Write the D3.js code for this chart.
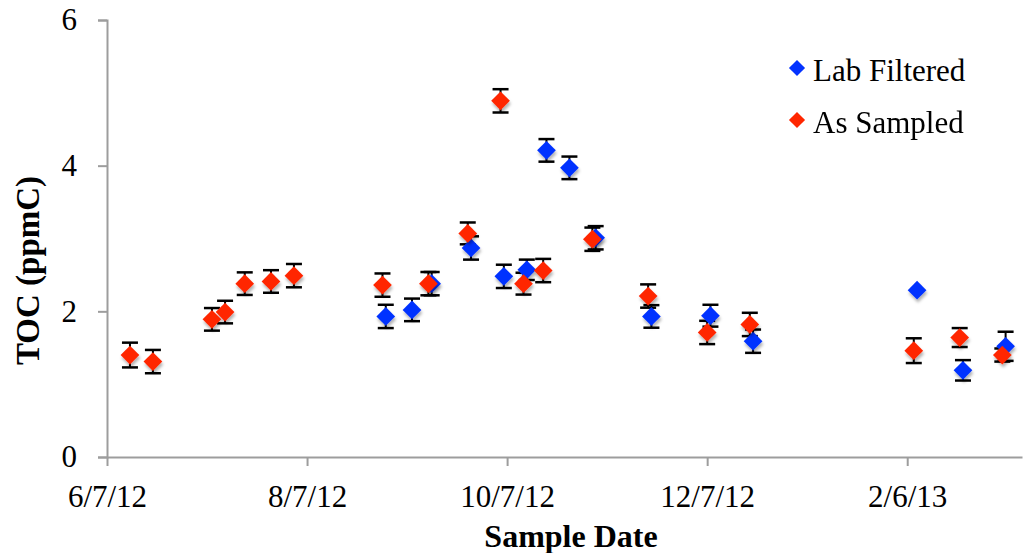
<!DOCTYPE html>
<html>
<head>
<meta charset="utf-8">
<script src="https://cdn.jsdelivr.net/npm/d3@7"></script>
<style>
  html, body { margin: 0; padding: 0; background: #fff; }
  svg { display: block; font-family: "Liberation Serif", "Times New Roman", serif; }
</style>
</head>
<body>
<script>
"use strict"

// Lab Filtered series
const labDates = ["2012-08-31", "2012-09-08", "2012-09-14", "2012-09-26", "2012-10-06", "2012-10-13", "2012-10-19", "2012-10-26", "2012-11-03", "2012-11-20", "2012-12-08", "2012-12-21", "2013-02-09", "2013-02-23", "2013-03-08"]
const labToc   = [1.93, 2.02, 2.38, 2.87, 2.48, 2.57, 4.21, 3.97, 3.01, 1.93, 1.94, 1.59, 2.29, 1.19, 1.52]
const labErr   = [0.16, 0.155, 0.16, 0.16, 0.16, 0.14, 0.155, 0.155, 0.16, 0.155, 0.15, 0.16, 0, 0.14, 0.2]

// As Sampled series
const sampledDates = ["2012-06-14", "2012-06-21", "2012-07-09", "2012-07-13", "2012-07-19", "2012-07-27", "2012-08-03", "2012-08-30", "2012-09-13", "2012-09-25", "2012-10-05", "2012-10-12", "2012-10-18", "2012-11-02", "2012-11-19", "2012-12-07", "2012-12-20", "2013-02-08", "2013-02-22", "2013-03-07"]
const sampledToc   = [1.40, 1.31, 1.89, 1.99, 2.38, 2.41, 2.49, 2.36, 2.38, 3.07, 4.89, 2.38, 2.56, 2.99, 2.21, 1.71, 1.82, 1.46, 1.64, 1.40]
const sampledErr   = [0.17, 0.16, 0.155, 0.155, 0.155, 0.155, 0.16, 0.16, 0.16, 0.15, 0.16, 0.15, 0.16, 0.16, 0.16, 0.16, 0.16, 0.17, 0.13, 0.09]

const xTicks = ["2012-06-07", "2012-08-07", "2012-10-07", "2012-12-07", "2013-02-06"]
const xDomain = ["2012-06-07", "2013-03-13"]
const yTicks = [0, 2, 4, 6]

const parse = d3.utcParse("%Y-%m-%d")
const fmt = d3.utcFormat("%-m/%-d/%y")

const series = [
  { name : "Lab Filtered", color : "#0433ff", dates : labDates, toc : labToc, err : labErr },
  { name : "As Sampled",   color : "#ff2600", dates : sampledDates, toc : sampledToc, err : sampledErr },
].map(s => ({ ...s, points : s.dates.map((d, i) => ({ date : parse(d), v : s.toc[i], e : s.err[i] })) }))

const width = 1024
const height = 553
const margin = { top : 20, right : 2, bottom : 96, left : 107 }

const x = d3.scaleUtc().domain(xDomain.map(parse)).range([margin.left, width - margin.right])
const y = d3.scaleLinear().domain([0, 6]).range([height - margin.bottom, margin.top])

const svg = d3.select("body").append("svg")
  .attr("width", width)
  .attr("height", height)

const defs = svg.append("defs")
defs.append("filter")
    .attr("id", "shadow")
    .attr("x", "-50%").attr("y", "-50%").attr("width", "200%").attr("height", "200%")
  .append("feDropShadow")
    .attr("dx", 1)
    .attr("dy", 3)
    .attr("stdDeviation", 1.6)
    .attr("flood-color", "#000")
    .attr("flood-opacity", 0.3)

const axisColor = "#9d9d9d"
const tickFont = 31

// y axis
const yAxis = svg.append("g")
  .attr("transform", `translate(${margin.left} 0)`)
  .call(d3.axisLeft(y).tickValues(yTicks).tickFormat(d3.format("d")).tickSize(9).tickPadding(21))
yAxis.select(".domain").attr("stroke", axisColor).attr("stroke-width", 2)
yAxis.selectAll(".tick line").attr("stroke", axisColor).attr("stroke-width", 2)
yAxis.selectAll(".tick text")
  .attr("font-family", "Liberation Serif")
  .attr("font-size", tickFont)
  .attr("fill", "#000")

// x axis
const xAxis = svg.append("g")
  .attr("transform", `translate(0 ${height - margin.bottom})`)
  .call(d3.axisBottom(x).tickValues(xTicks.map(parse)).tickFormat(fmt).tickSize(9).tickSizeOuter(0).tickPadding(19))
xAxis.select(".domain").attr("stroke", axisColor).attr("stroke-width", 2)
xAxis.selectAll(".tick line").attr("stroke", axisColor).attr("stroke-width", 2)
xAxis.selectAll(".tick text")
  .attr("font-family", "Liberation Serif")
  .attr("font-size", tickFont)
  .attr("fill", "#000")

// axis titles
svg.append("text")
  .text("Sample Date")
  .attr("x", 571)
  .attr("y", 547)
  .attr("text-anchor", "middle")
  .attr("font-weight", "bold")
  .attr("font-size", 32)

svg.append("text")
  .text("TOC (ppmC)")
  .attr("text-anchor", "middle")
  .attr("font-weight", "bold")
  .attr("font-size", 33)
  .attr("transform", `translate(39 ${(margin.top + height - margin.bottom) / 2 + 32}) rotate(-90)`)

// error bars first, then markers per series
const capHalf = 8
const bars = svg.append("g").attr("class", "error-bars")
series.forEach(s => {
  const g = bars.append("g")
  const withErr = s.points.filter(p => p.e > 0)
  g.selectAll(".stem").data(withErr).enter().append("line")
    .attr("x1", p => x(p.date)).attr("x2", p => x(p.date))
    .attr("y1", p => y(p.v + p.e)).attr("y2", p => y(p.v - p.e))
    .attr("stroke", "#000").attr("stroke-width", 2)
  g.selectAll(".cap-top").data(withErr).enter().append("line")
    .attr("x1", p => x(p.date) - capHalf).attr("x2", p => x(p.date) + capHalf)
    .attr("y1", p => y(p.v + p.e)).attr("y2", p => y(p.v + p.e))
    .attr("stroke", "#000").attr("stroke-width", 2.5)
  g.selectAll(".cap-bottom").data(withErr).enter().append("line")
    .attr("x1", p => x(p.date) - capHalf).attr("x2", p => x(p.date) + capHalf)
    .attr("y1", p => y(p.v - p.e)).attr("y2", p => y(p.v - p.e))
    .attr("stroke", "#000").attr("stroke-width", 2.5)
})

const diamond = d3.symbol(d3.symbolSquare, 175)
const marks = svg.append("g").attr("class", "markers")
series.forEach(s => {
  marks.append("g")
    .attr("filter", "url(#shadow)")
    .selectAll("path").data(s.points).enter().append("path")
      .attr("d", diamond)
      .attr("fill", s.color)
      .attr("transform", p => `translate(${x(p.date)} ${y(p.v)}) rotate(45)`)
})

// legend
const legend = svg.append("g").attr("transform", "translate(797 68)")
const legendItem = legend.selectAll(".item").data(series).enter().append("g")
  .attr("transform", (_, i) => `translate(0 ${i * 52})`)
legendItem.append("path")
  .attr("d", d3.symbol(d3.symbolSquare, 130))
  .attr("fill", s => s.color)
  .attr("transform", "rotate(45)")
legendItem.append("text")
  .text(s => s.name)
  .attr("x", 16)
  .attr("y", 13)
  .attr("font-size", 31)
</script>
</body>
</html>
